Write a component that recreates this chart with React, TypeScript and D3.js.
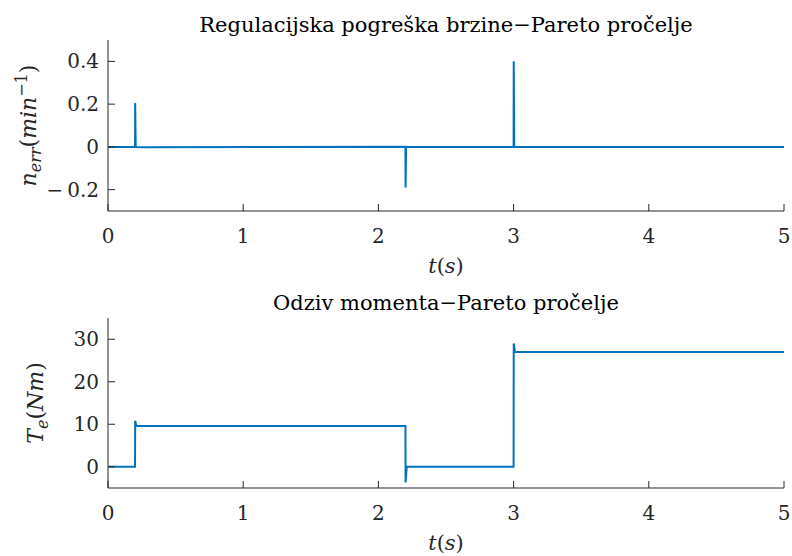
import React from "react";
import * as d3 from "d3";

const xTicks = [0, 1, 2, 3, 4, 5];
const topYTicks = [-0.2, 0, 0.2, 0.4];
const botYTicks = [0, 10, 20, 30];

const topT = [0, 0.2, 0.201, 0.205, 0.25, 2.2, 2.201, 2.205, 3.0, 3.001, 3.005, 5];
const topV = [0, 0, 0.205, 0, -0.002, 0, -0.19, 0, 0, 0.4, 0, 0];

const botT = [0, 0.2, 0.201, 0.21, 2.2, 2.201, 2.21, 3.0, 3.001, 3.01, 5];
const botV = [0, 0, 10.8, 9.6, 9.6, -3.7, 0, 0, 29, 27, 27];

const FONT = "DejaVu Serif";
const AX = "#262626";
const LINE = "#0072BD";

function fmt(v: number) {
  if (v === 0) return "0";
  const s = String(Math.abs(v));
  return (v < 0 ? "\u2212\u2009" : "") + s;
}

function Panel(props: {
  top: number; bottom: number; domain: [number, number]; yTicks: number[];
  t: number[]; v: number[]; title: string; ylabel: React.ReactNode; ylabelX: number;
}) {
  const { top, bottom, domain, yTicks, t, v, title, ylabel, ylabelX } = props;
  const left = 108, right = 784;
  const x = d3.scaleLinear().domain([0, 5]).range([left, right]);
  const y = d3.scaleLinear().domain(domain).range([bottom, top]);
  const line = d3.line<number>().x((_, i) => x(t[i])).y((d) => y(d));
  const path = line(v) || "";
  const tl = 7;
  return (
    <g fontFamily={FONT}>
      <clipPath id={"clip" + top}>
        <rect x={left} y={top} width={right - left} height={bottom - top} />
      </clipPath>
      <path d={path} fill="none" stroke={LINE} strokeWidth={2} clipPath={`url(#clip${top})`} />
      <line x1={left} x2={left} y1={top} y2={bottom} stroke={AX} strokeWidth={1} />
      <line x1={left} x2={right} y1={bottom} y2={bottom} stroke={AX} strokeWidth={1} />
      {xTicks.map((d) => (
        <g key={"x" + d}>
          <line x1={x(d)} x2={x(d)} y1={bottom} y2={bottom - tl} stroke={AX} />
          <text x={x(d)} y={bottom + 32} textAnchor="middle" fontSize={20} fill={AX}>{fmt(d)}</text>
        </g>
      ))}
      {yTicks.map((d) => (
        <g key={"y" + d}>
          <line x1={left} x2={left + tl} y1={y(d)} y2={y(d)} stroke={AX} />
          <text x={left - 9} y={y(d) + 7} textAnchor="end" fontSize={20} fill={AX}>{fmt(d)}</text>
        </g>
      ))}
      <text x={(left + right) / 2} y={top - 8} textAnchor="middle" fontSize={21} fill="#000">{title}</text>
      <text x={(left + right) / 2} y={bottom + 62} textAnchor="middle" fontSize={21} fill={AX}>
        <tspan fontStyle="italic">t</tspan>(<tspan fontStyle="italic">s</tspan>)
      </text>
      <text transform={`translate(${ylabelX},${(top + bottom) / 2}) rotate(-90)`} textAnchor="middle" fontSize={22} fill={AX}>
        {ylabel}
      </text>
    </g>
  );
}

export default function App() {
  return (
    <svg width={792} height={556} style={{ display: "block", position: "absolute", left: 0, top: 0 }}>
      <rect width={792} height={556} fill="#fff" />
      <Panel top={40} bottom={211} domain={[-0.3, 0.5]} yTicks={topYTicks} t={topT} v={topV}
        title="Regulacijska pogreška brzine−Pareto pročelje" ylabelX={36}
        ylabel={<>
          <tspan fontStyle="italic">n</tspan><tspan fontStyle="italic" fontSize={16} dy={5}>err</tspan>
          <tspan dy={-5}>(</tspan><tspan fontStyle="italic">min</tspan>
          <tspan fontSize={16} dy={-9}>−1</tspan><tspan dy={9}>)</tspan>
        </>} />
      <Panel top={318} bottom={488} domain={[-5, 35]} yTicks={botYTicks} t={botT} v={botV}
        title="Odziv momenta−Pareto pročelje" ylabelX={43}
        ylabel={<>
          <tspan fontStyle="italic">T</tspan><tspan fontStyle="italic" fontSize={16} dy={5}>e</tspan>
          <tspan dy={-5}>(</tspan><tspan fontStyle="italic">Nm</tspan><tspan>)</tspan>
        </>} />
    </svg>
  );
}
